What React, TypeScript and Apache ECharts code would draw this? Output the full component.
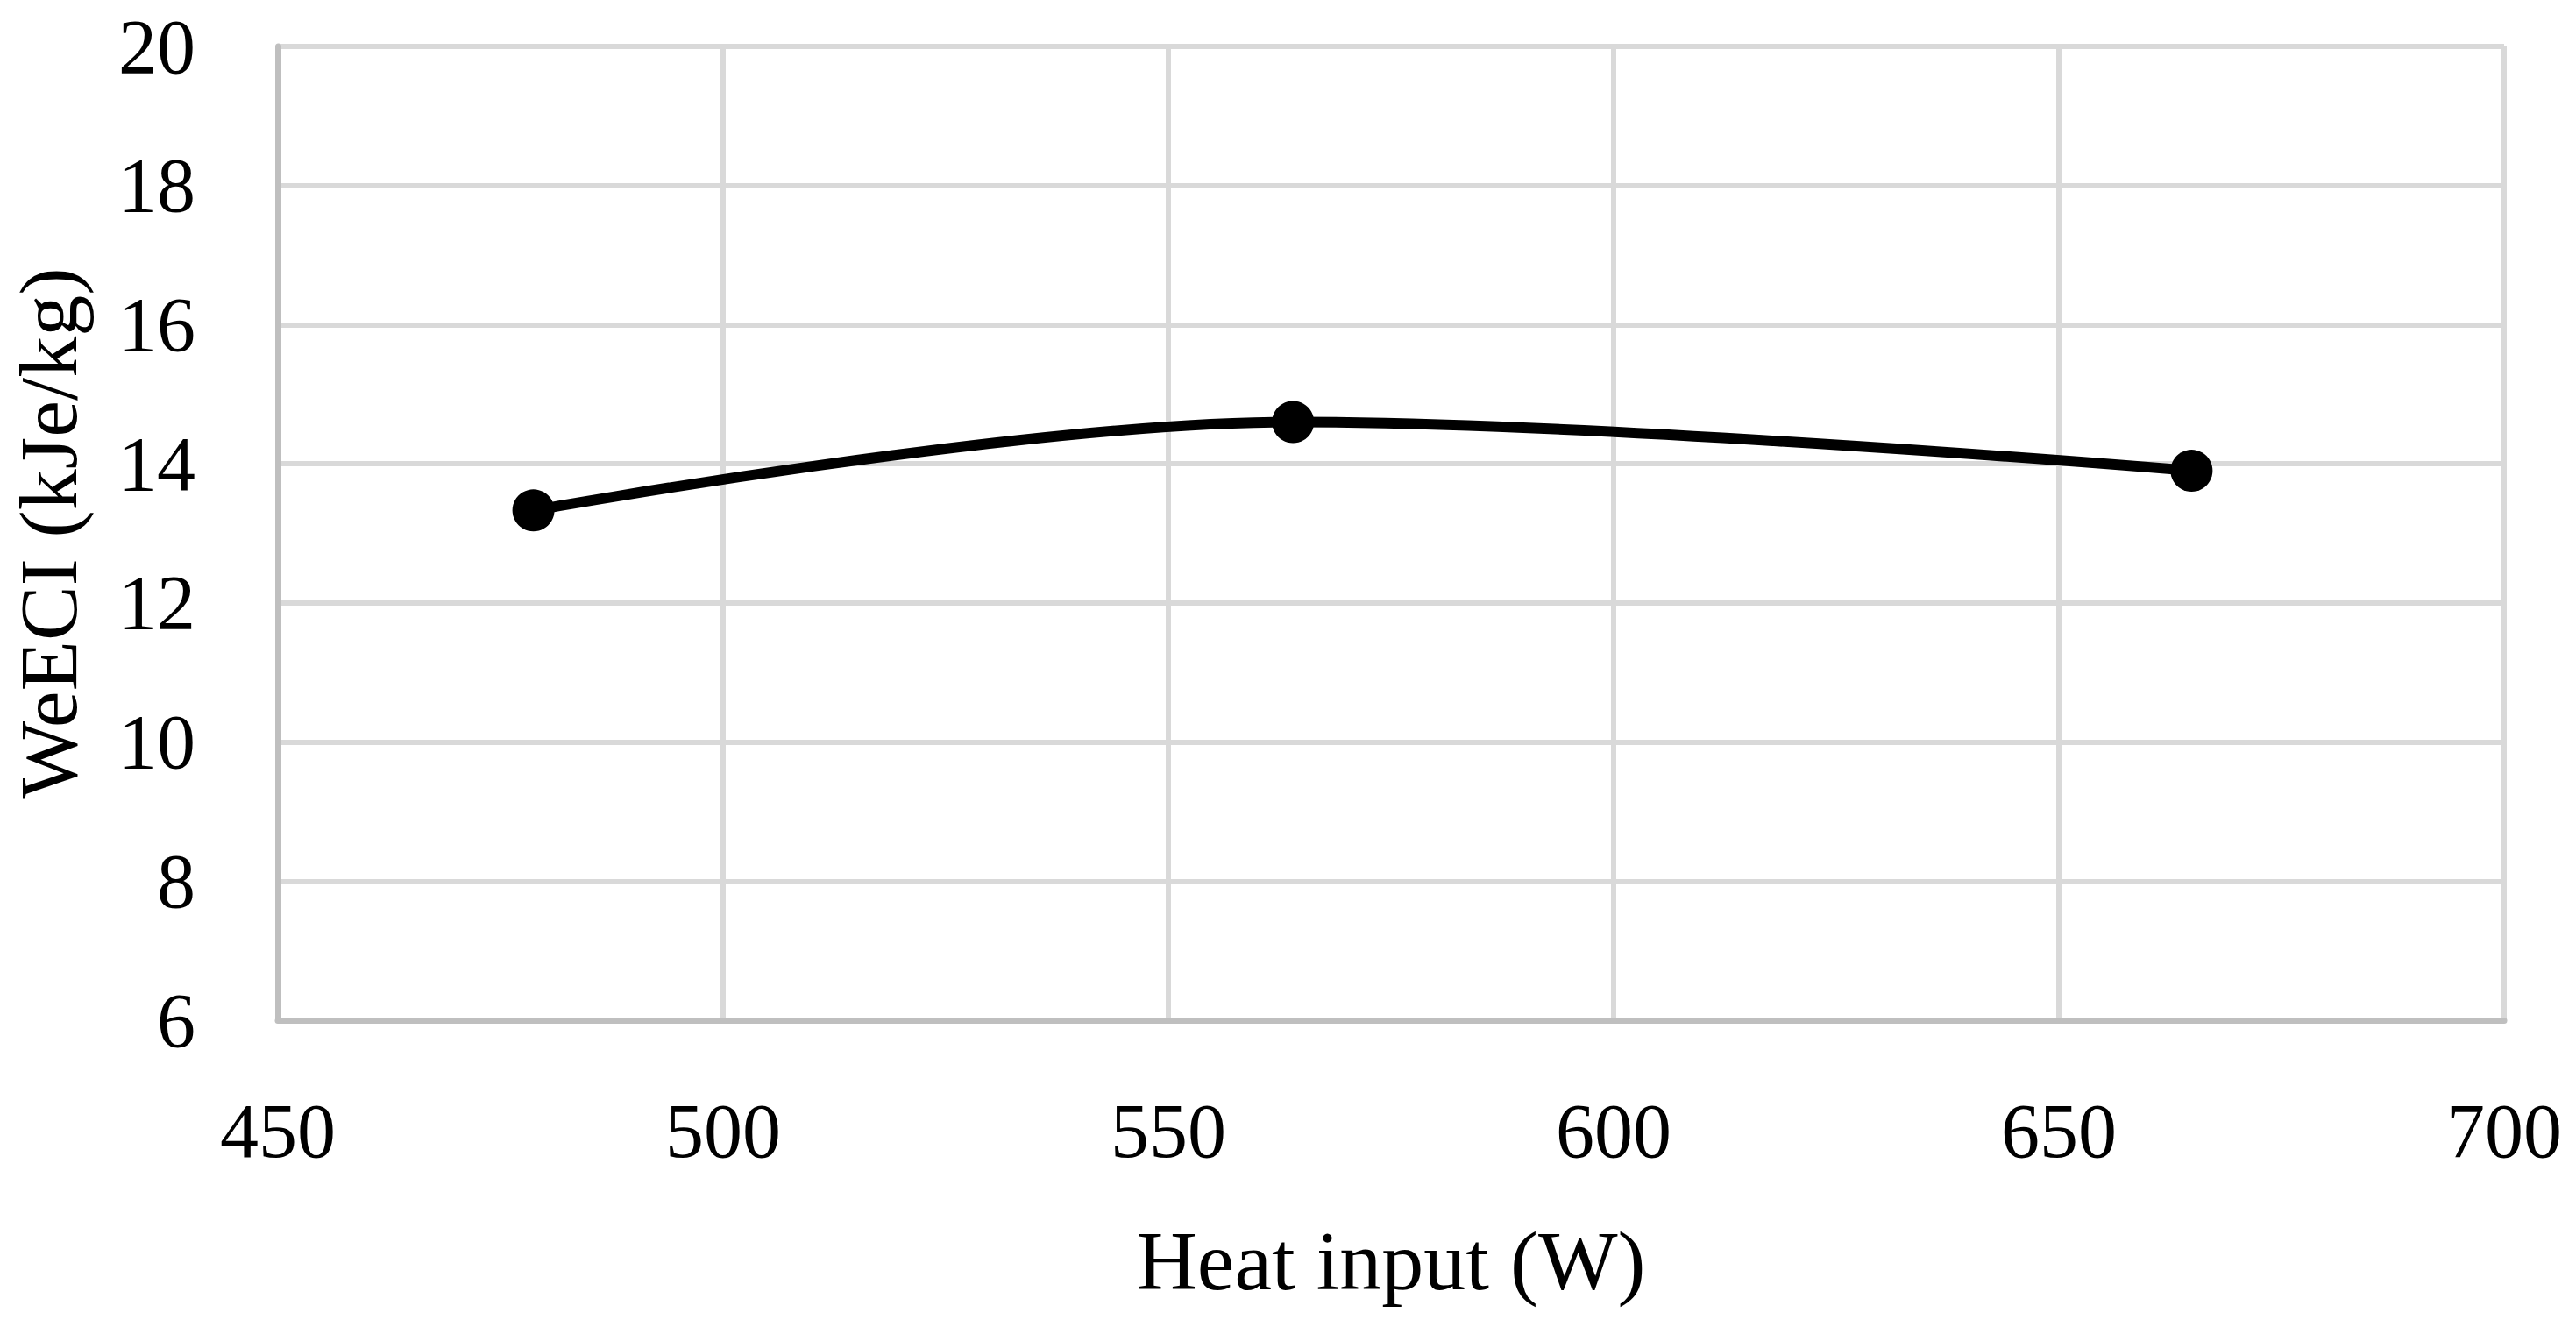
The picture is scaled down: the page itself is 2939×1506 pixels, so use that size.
import React, { useEffect, useRef } from "react";
import * as echarts from "echarts";

const heatInput = [478.7, 564, 664.9];
const weeci = [13.33, 14.6, 13.9];
const xTitle = "Heat input (W)";
const yTitle = "WeECI (kJe/kg)";

export default function App() {
  const ref = useRef<HTMLDivElement>(null);
  useEffect(() => {
    document.body.style.margin = "0";
    const chart = echarts.init(ref.current!, null, { renderer: "svg" });
    const font = "'Liberation Serif', 'Times New Roman', serif";
    chart.setOption({
      animation: false,
      backgroundColor: "#ffffff",
      grid: { left: 304, top: 53, right: 82, bottom: 342, containLabel: false },
      xAxis: {
        type: "value",
        min: 450,
        max: 700,
        interval: 50,
        name: xTitle,
        nameLocation: "middle",
        nameGap: 226,
        nameTextStyle: { fontFamily: font, fontSize: 96, color: "#000" },
        axisLine: { show: true, lineStyle: { color: "#bfbfbf", width: 7 } },
        axisTick: { show: false },
        axisLabel: { fontFamily: font, fontSize: 88, color: "#000", margin: 82 },
        splitLine: { show: true, lineStyle: { color: "#d9d9d9", width: 6 } },
      },
      yAxis: {
        type: "value",
        min: 6,
        max: 20,
        interval: 2,
        name: yTitle,
        nameLocation: "middle",
        nameGap: 215,
        nameTextStyle: { fontFamily: font, fontSize: 94, color: "#000" },
        axisLine: { show: true, lineStyle: { color: "#bfbfbf", width: 7 } },
        axisTick: { show: false },
        axisLabel: { fontFamily: font, fontSize: 88, color: "#000", margin: 94 },
        splitLine: { show: true, lineStyle: { color: "#d9d9d9", width: 6 } },
      },
      series: [
        {
          type: "line",
          data: heatInput.map((x, i) => [x, weeci[i]]),
          smooth: 0.35,
          symbol: "circle",
          symbolSize: 48,
          lineStyle: { color: "#000", width: 12 },
          itemStyle: { color: "#000", borderWidth: 0 },
        },
      ],
    });
    return () => chart.dispose();
  }, []);
  return (
    <div
      ref={ref}
      style={{ position: "fixed", left: 0, top: 0, width: 2939, height: 1506 }}
    />
  );
}
